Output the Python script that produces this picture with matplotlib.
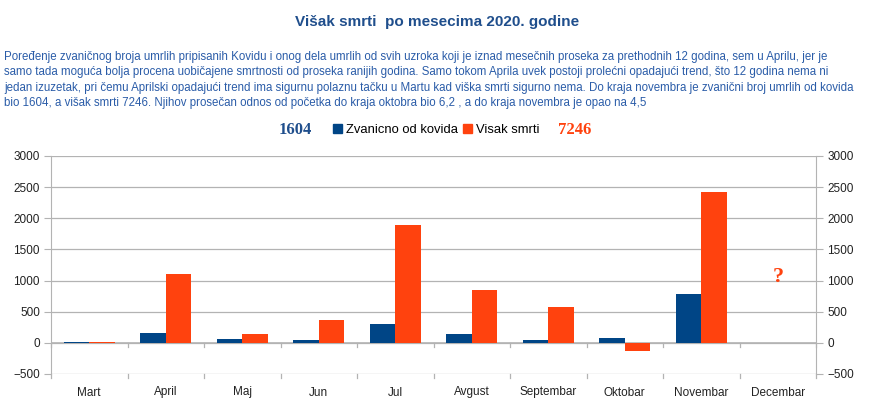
import matplotlib
matplotlib.use("Agg")
import matplotlib.pyplot as plt
import numpy as np
from matplotlib.patches import Patch

months = ["Mart", "April", "Maj", "Jun", "Jul", "Avgust", "Septembar",
          "Oktobar", "Novembar", "Decembar"]
covid = [20, 155, 64, 38, 295, 139, 38, 70, 782, np.nan]
excess = [20, 1100, 145, 375, 1890, 841, 568, -129, 2421, np.nan]
yticks = [-500, 0, 500, 1000, 1500, 2000, 2500, 3000]

BLUE = "#004586"
ORANGE = "#ff420e"
TITLE_BLUE = "#1f4e8c"
TEXT_BLUE = "#2a5ca8"
GRID = "#b3b3b3"

plt.rcParams["font.family"] = ["Liberation Sans", "DejaVu Sans"]

paragraph = (
    "Poređenje zvaničnog broja umrlih pripisanih Kovidu i onog dela umrlih od svih uzroka koji je iznad mesečnih proseka za prethodnih 12 godina, sem u Aprilu, jer je\n"
    "samo tada moguća bolja procena uobičajene smrtnosti od proseka ranijih godina. Samo tokom Aprila uvek postoji prolećni opadajući trend, što 12 godina nema ni\n"
    "jedan izuzetak, pri čemu Aprilski opadajući trend ima sigurnu polaznu tačku u Martu kad viška smrti sigurno nema. Do kraja novembra je zvanični broj umrlih od kovida\n"
    "bio 1604, a višak smrti 7246. Njihov prosečan odnos od početka do kraja oktobra bio 6,2 , a do kraja novembra je opao na 4,5"
)

W, H = 873, 405
fig = plt.figure(figsize=(W / 100, H / 100), dpi=100)
ax = fig.add_axes([51 / W, 1 - 374 / H, (816 - 51) / W, (374 - 156) / H])

x = np.arange(len(months))
bw = 1 / 3
ax.bar(x - bw / 2, covid, bw, color=BLUE, zorder=3)
ax.bar(x + bw / 2, excess, bw, color=ORANGE, zorder=3)

ax.set_xlim(-0.5, len(months) - 0.5)
ax.set_ylim(-500, 3000)
ax.set_yticks(yticks)
ax.set_xticks(x)
ax.set_xticklabels(months)
ax.tick_params(axis="x", length=0, pad=9, labelsize=8.5, colors="#222222")
ax.tick_params(axis="y", length=5, color=GRID, labelsize=8.5, labelcolor="#222222",
               left=True, right=True, labelleft=True, labelright=True, pad=3)
ax.grid(axis="y", color=GRID, linewidth=0.9, zorder=0)

for s in ["top", "bottom"]:
    ax.spines[s].set_visible(False)
for s in ["left", "right"]:
    ax.spines[s].set_color(GRID)

# category axis crossing at zero, with boundary ticks
ax.axhline(0, color=GRID, linewidth=1.2, zorder=2)
for b in np.arange(-0.5, len(months)):
    ax.plot([b, b], [0, -60], color=GRID, linewidth=0.9, clip_on=False, zorder=2)
    ax.plot([b, b], [-500, -570], color=GRID, linewidth=0.9, clip_on=False, zorder=2)

ax.text(9, 1050, "?", color=ORANGE, fontsize=16, fontweight="bold",
        family="Liberation Serif", ha="center", va="center")

fig.text(437 / W, 1 - 22 / H, "Višak smrti  po mesecima 2020. godine",
         ha="center", va="center", fontsize=11, fontweight="bold", color=TITLE_BLUE)
fig.text(4 / W, 1 - 51 / H, paragraph, ha="left", va="top", fontsize=8.3,
         color=TEXT_BLUE, linespacing=1.38)

handles = [Patch(color=BLUE, label="Zvanicno od kovida"),
           Patch(color=ORANGE, label="Visak smrti")]
fig.legend(handles=handles, loc="center", bbox_to_anchor=(436 / W, 1 - 130 / H),
           ncol=2, frameon=False, fontsize=9.4, handlelength=0.7, handleheight=0.7,
           handletextpad=0.3, columnspacing=0.4)
fig.text(295 / W, 1 - 130 / H, "1604", ha="center", va="center", fontsize=12,
         fontweight="bold", family="Liberation Serif", color=TITLE_BLUE)
fig.text(575 / W, 1 - 130 / H, "7246", ha="center", va="center", fontsize=12,
         fontweight="bold", family="Liberation Serif", color=ORANGE)

fig.savefig("out.png", dpi=100)
